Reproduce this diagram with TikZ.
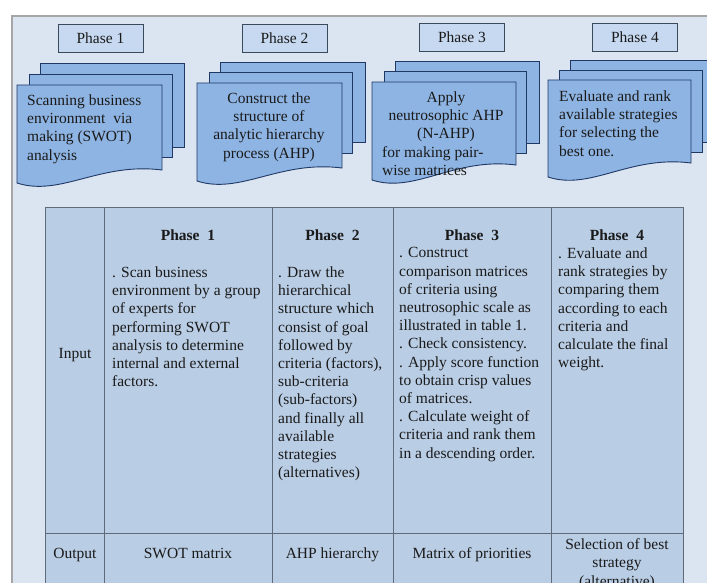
\documentclass[tikz,border=0pt]{standalone}
\usepackage{fontspec}
\setmainfont{Liberation Serif}
\newfontfamily\tnr{Liberation Serif}
\definecolor{panelbg}{HTML}{DBE5F1}
\definecolor{panelline}{HTML}{A6A6A6}
\definecolor{tablefill}{HTML}{B9CDE5}
\definecolor{tline}{HTML}{5F6B78}
\definecolor{docfill}{HTML}{8EB4E3}
\definecolor{docline}{HTML}{1F3864}
\definecolor{phasefill}{HTML}{C6D9F1}
\definecolor{boxline}{HTML}{3A4A5A}
\definecolor{txt}{HTML}{1A1A1A}
\newcommand\frontdoc[5]{%
  \filldraw[docshape] (#1,#2) -- (#3,#2) -- (#3,#5)
    .. controls ({#1+0.57*(#3-#1)},{#5-8}) and ({#1+0.3*(#3-#1)},{#4+14}) .. (#1,#4) -- cycle;}
\newcommand\backdoc[4]{%
  \filldraw[docshape] (#1,#2) rectangle (#3,#4);}
\tikzset{
  every node/.style={text=txt, inner sep=0pt, font=\tnr\fontsize{15.5}{18.2}\selectfont},
  phasebox/.style={draw=boxline, fill=phasefill, line width=0.9pt, minimum width=85pt, minimum height=28pt},
  docshape/.style={draw=docline, fill=docfill, line width=0.9pt},
  tbl/.style={draw=tline, line width=0.9pt},
  cell/.style={align=left, anchor=north west},
  ccell/.style={align=center, anchor=north},
  hdr/.style={anchor=base, font=\tnr\fontsize{15.5}{18.2}\selectfont\bfseries},
}
\begin{document}
\begin{tikzpicture}[x=1pt,y=-1pt]
\useasboundingbox (0,0) rectangle (707,583);
\clip (0,0) rectangle (707,583);
% panel
\fill[white] (0,0) rectangle (707,583);
\filldraw[fill=panelbg, draw=panelline, line width=1.6pt] (12,16) rectangle (730,610);

% phase labels
\node[phasebox] (pb1) at (100.5,38.5) {Phase 1};
\node[phasebox] (pb2) at (284.5,38) {Phase 2};
\node[phasebox] (pb3) at (462,37) {Phase 3};
\node[phasebox] (pb4) at (635,37) {Phase 4};

% document stacks
\backdoc{40}{63}{184}{147}
\backdoc{29}{74}{172}{157}
\frontdoc{17}{85}{162}{183}{170}
\backdoc{220}{62}{365}{142}
\backdoc{209}{72}{352}{153}
\frontdoc{197}{83}{342}{181}{168}
\backdoc{395}{61}{539}{143}
\backdoc{384}{71}{526}{153}
\frontdoc{372}{82}{516}{180}{165}
\backdoc{570}{60}{713}{142}
\backdoc{559}{70}{702}{152}
\frontdoc{548}{80}{691}{177}{163}

\node[cell] (t1) at (27,94.5) {Scanning business\\environment\ \ via\\making (SWOT)\\analysis};
\node[ccell] (t2) at (269,92.5) {Construct the\\structure of\\analytic hierarchy\\process (AHP)};
\node[ccell] (t3a) at (446,91.5) {Apply\\neutrosophic AHP\\(N-AHP)};
\node[cell] (t3b) at (382,146) {for making pair-\\wise matrices};
\node[cell] (t4) at (559,90.5) {Evaluate and rank\\available strategies\\for selecting the\\best one.};

% table
\filldraw[tbl, fill=tablefill] (45,207) rectangle (683,610);
\foreach \xx in {104,272,393,551} \draw[tbl] (\xx,207) -- (\xx,610);
\draw[tbl] (45,533) -- (683,533);

\node[hdr] (h1) at (188,240) {Phase\ \ 1};
\node[hdr] (h2) at (332.5,240) {Phase\ \ 2};
\node[hdr] (h3) at (472,240) {Phase\ \ 3};
\node[hdr] (h4) at (617,240) {Phase\ \ 4};

\node[anchor=base] (in) at (75,358) {Input};
\node[anchor=base] (out) at (75,558) {Output};

\node[cell] (c1) at (112,266.5) {. Scan business\\environment by a group\\of experts for\\performing SWOT\\analysis to determine\\internal and external\\factors.};
\node[cell] (c2) at (278,266.5) {. Draw the\\hierarchical\\structure which\\consist of goal\\followed by\\criteria (factors),\\sub-criteria\\(sub-factors)\\and finally all\\available\\strategies\\(alternatives)};
\node[cell] (c3) at (399,247.5) {. Construct\\comparison matrices\\of criteria using\\neutrosophic scale as\\illustrated in table 1.\\. Check consistency.\\. Apply score function\\to obtain crisp values\\of matrices.\\. Calculate weight of\\criteria and rank them\\in a descending order.};
\node[cell] (c4) at (558,247.5) {. Evaluate and\\rank strategies by\\comparing them\\according to each\\criteria and\\calculate the final\\weight.};

\node[anchor=base] (o1) at (188,558) {SWOT matrix};
\node[anchor=base] (o2) at (332.5,558) {AHP hierarchy};
\node[anchor=base] (o3) at (472,558) {Matrix of priorities};
\node[ccell] (o4) at (617,538.5) {Selection of best\\strategy\\(alternative)};
\end{tikzpicture}
\end{document}
